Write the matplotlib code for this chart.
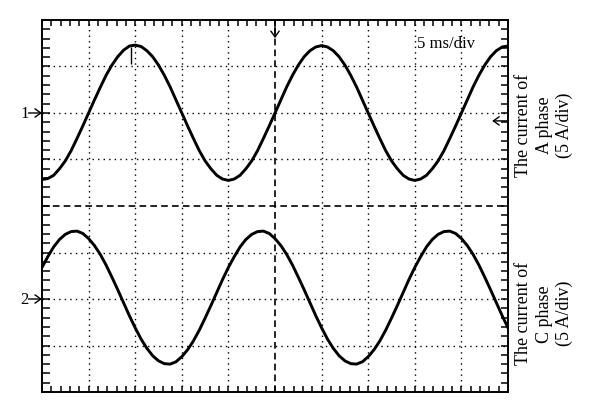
import matplotlib
matplotlib.use("Agg")
import matplotlib.pyplot as plt
from matplotlib.ticker import MultipleLocator
import numpy as np

plt.rcParams['font.family'] = ['Liberation Serif', 'DejaVu Serif']

# screen is 10 x 8 divisions, 5 ms/div; traces sampled every 1/8 div
n_div_x = 10
n_div_y = 8
t_div = np.linspace(0, 10, 81)

# phase A current (divisions, ground marker "1" at +2 div)
phase_a = [0.57, 0.59, 0.66, 0.80, 0.97, 1.19, 1.45, 1.72, 2.00, 2.28, 2.55, 2.81, 3.03, 3.21, 3.35, 3.44,
           3.46, 3.43, 3.34, 3.21, 3.03, 2.81, 2.56, 2.28, 2.00, 1.72, 1.45, 1.19, 0.97, 0.80, 0.66, 0.58,
           0.55, 0.58, 0.66, 0.80, 0.97, 1.19, 1.45, 1.72, 2.00, 2.28, 2.56, 2.81, 3.03, 3.21, 3.34, 3.42,
           3.45, 3.42, 3.34, 3.21, 3.03, 2.81, 2.56, 2.28, 2.00, 1.72, 1.45, 1.19, 0.97, 0.80, 0.66, 0.58,
           0.55, 0.58, 0.66, 0.80, 0.97, 1.19, 1.45, 1.72, 2.00, 2.28, 2.56, 2.81, 3.03, 3.21, 3.34, 3.42,
           3.44]

# phase C current (divisions, ground marker "2" at -2 div)
phase_c = [-1.32, -1.09, -0.88, -0.72, -0.61, -0.55, -0.54, -0.59, -0.70, -0.85, -1.04, -1.27, -1.53, -1.80, -2.08, -2.36,
           -2.62, -2.86, -3.06, -3.22, -3.33, -3.39, -3.40, -3.35, -3.24, -3.09, -2.90, -2.67, -2.41, -2.14, -1.86, -1.58,
           -1.32, -1.09, -0.88, -0.72, -0.61, -0.55, -0.54, -0.59, -0.70, -0.85, -1.04, -1.27, -1.53, -1.80, -2.08, -2.36,
           -2.62, -2.86, -3.06, -3.22, -3.33, -3.39, -3.40, -3.35, -3.24, -3.09, -2.90, -2.67, -2.41, -2.14, -1.86, -1.58,
           -1.32, -1.09, -0.88, -0.72, -0.61, -0.55, -0.54, -0.59, -0.70, -0.85, -1.04, -1.27, -1.53, -1.80, -2.08, -2.36,
           -2.62]

# small glitch on phase A near its first peak
spike_t = [1.92]
spike_top = [3.42]
spike_bot = [3.05]

ch_levels = [2, -2]
ch_names = ['1', '2']
trig_level = 1.83
timebase = '5 ms/div'
label_a = 'The current of\nA phase\n(5 A/div)'
label_c = 'The current of\nC phase\n(5 A/div)'

fig = plt.figure(figsize=(6, 4.14), dpi=100)
ax = fig.add_axes([0.07, 0.0507, 0.7767, 0.8986])
ax.set_xlim(0, n_div_x)
ax.set_ylim(-n_div_y / 2, n_div_y / 2)

# grid: dotted, with dashed centre lines
for i in range(1, n_div_x):
    if i == n_div_x // 2:
        ax.axvline(i, color='k', lw=1.2, ls=(0, (4, 2.5)), zorder=1)
    else:
        ax.axvline(i, color='k', lw=1.0, ls=(0, (1, 3)), zorder=1)
for j in range(-n_div_y // 2 + 1, n_div_y // 2):
    if j == 0:
        ax.axhline(j, color='k', lw=1.2, ls=(0, (4, 2.5)), zorder=1)
    else:
        ax.axhline(j, color='k', lw=1.0, ls=(0, (1, 3)), zorder=1)

# traces
ax.plot(t_div, phase_a, color='k', lw=2.1, zorder=3)
ax.plot(t_div, phase_c, color='k', lw=2.1, zorder=3)
ax.vlines(spike_t, spike_bot, spike_top, color='k', lw=1.0, zorder=3)

# frame ticks, 5 per division, inside
ax.xaxis.set_major_locator(MultipleLocator(0.2))
ax.yaxis.set_major_locator(MultipleLocator(0.2))
ax.tick_params(axis='both', direction='in', top=True, right=True,
               labelbottom=False, labelleft=False, width=1.1, color='k')
ax.tick_params(axis='x', length=4.3)
ax.tick_params(axis='y', length=5.4)
for s in ax.spines.values():
    s.set_linewidth(1.4)

arrow = dict(arrowstyle='->,head_length=0.35,head_width=0.25', lw=1.0, color='k',
             mutation_scale=12, shrinkA=0, shrinkB=0)

# channel ground markers
for lev, name in zip(ch_levels, ch_names):
    ax.annotate('', xy=(0, lev), xytext=(-0.29, lev), arrowprops=arrow, annotation_clip=False)
    ax.text(-0.38, lev, name, ha='center', va='center', fontsize=12)

# trigger position (top) and trigger level (right)
ax.annotate('', xy=(5, 3.61), xytext=(5, 4.0), arrowprops=arrow, annotation_clip=False, zorder=4)
ax.annotate('', xy=(9.66, trig_level), xytext=(10, trig_level), arrowprops=arrow, annotation_clip=False)

ax.text(8.05, 3.5, timebase, ha='left', va='center', fontsize=12)

fig.text(0.907, 0.698, label_a, rotation=90, ha='center', va='center',
         multialignment='center', fontsize=13, linespacing=1.25)
fig.text(0.907, 0.242, label_c, rotation=90, ha='center', va='center',
         multialignment='center', fontsize=13, linespacing=1.25)

fig.savefig('out.png', dpi=100)
